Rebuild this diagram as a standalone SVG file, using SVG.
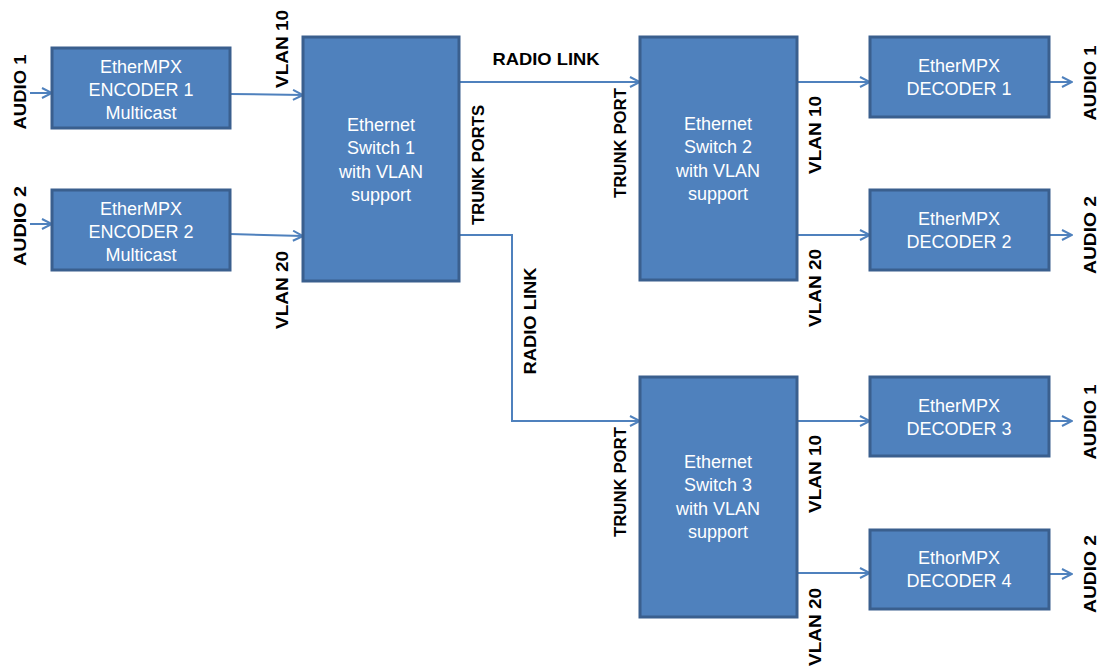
<svg xmlns="http://www.w3.org/2000/svg" width="1100" height="666" viewBox="0 0 1100 666">
<defs>
<marker id="arr" viewBox="0 0 12 12" refX="11" refY="6" markerWidth="12" markerHeight="12" markerUnits="userSpaceOnUse" orient="auto">
<path d="M1,1 L11,6 L1,11" fill="none" stroke="#4F81BD" stroke-width="2"/>
</marker>
<style>
.box{fill:#4F81BD;stroke:#3A5F8E;stroke-width:3}
.bt{fill:#FFFFFF;font-family:"Liberation Sans",Arial,sans-serif;font-size:18px;text-anchor:middle}
.lb{fill:#000000;font-family:"Liberation Sans",Arial,sans-serif;font-size:17px;font-weight:bold;text-anchor:middle;dominant-baseline:central}
.cn{fill:none;stroke:#4F81BD;stroke-width:2;marker-end:url(#arr)}
</style>
</defs>
<rect width="1100" height="666" fill="#FFFFFF"/>

<g id="connectors">
<line class="cn" x1="30" y1="93" x2="52" y2="93"/>
<line class="cn" x1="30" y1="224" x2="52" y2="224"/>
<line class="cn" x1="230" y1="94" x2="303" y2="95"/>
<line class="cn" x1="230" y1="234" x2="303" y2="236"/>
<line class="cn" x1="459" y1="82" x2="640" y2="82"/>
<polyline class="cn" points="459,235 512,235 512,421 640,421"/>
<line class="cn" x1="797" y1="82" x2="870" y2="82"/>
<line class="cn" x1="797" y1="235" x2="870" y2="235"/>
<line class="cn" x1="1049" y1="82" x2="1072" y2="82"/>
<line class="cn" x1="1049" y1="235" x2="1072" y2="235"/>
<line class="cn" x1="797" y1="421" x2="870" y2="421"/>
<line class="cn" x1="797" y1="573" x2="870" y2="573"/>
<line class="cn" x1="1049" y1="421" x2="1072" y2="421"/>
<line class="cn" x1="1049" y1="574" x2="1072" y2="574"/>
</g>

<g id="labels">
<text class="lb" transform="translate(20,92) rotate(-90)" textLength="75" lengthAdjust="spacingAndGlyphs">AUDIO 1</text>
<text class="lb" transform="translate(20,226) rotate(-90)" textLength="80" lengthAdjust="spacingAndGlyphs">AUDIO 2</text>
<text class="lb" transform="translate(282,49) rotate(-90)" textLength="78" lengthAdjust="spacingAndGlyphs">VLAN 10</text>
<text class="lb" transform="translate(282,290) rotate(-90)" textLength="78" lengthAdjust="spacingAndGlyphs">VLAN 20</text>
<text class="lb" x="546" y="59" textLength="107" lengthAdjust="spacingAndGlyphs">RADIO LINK</text>
<text class="lb" transform="translate(478,165) rotate(-90)" textLength="120" lengthAdjust="spacingAndGlyphs">TRUNK PORTS</text>
<text class="lb" transform="translate(620,143) rotate(-90)" textLength="110" lengthAdjust="spacingAndGlyphs">TRUNK PORT</text>
<text class="lb" transform="translate(530,321) rotate(-90)" textLength="107" lengthAdjust="spacingAndGlyphs">RADIO LINK</text>
<text class="lb" transform="translate(815,135) rotate(-90)" textLength="78" lengthAdjust="spacingAndGlyphs">VLAN 10</text>
<text class="lb" transform="translate(815,288) rotate(-90)" textLength="78" lengthAdjust="spacingAndGlyphs">VLAN 20</text>
<text class="lb" transform="translate(1090,83) rotate(-90)" textLength="75" lengthAdjust="spacingAndGlyphs">AUDIO 1</text>
<text class="lb" transform="translate(1090,235) rotate(-90)" textLength="78" lengthAdjust="spacingAndGlyphs">AUDIO 2</text>
<text class="lb" transform="translate(620,482) rotate(-90)" textLength="110" lengthAdjust="spacingAndGlyphs">TRUNK PORT</text>
<text class="lb" transform="translate(815,474) rotate(-90)" textLength="78" lengthAdjust="spacingAndGlyphs">VLAN 10</text>
<text class="lb" transform="translate(815,627) rotate(-90)" textLength="78" lengthAdjust="spacingAndGlyphs">VLAN 20</text>
<text class="lb" transform="translate(1090,422) rotate(-90)" textLength="75" lengthAdjust="spacingAndGlyphs">AUDIO 1</text>
<text class="lb" transform="translate(1090,574) rotate(-90)" textLength="78" lengthAdjust="spacingAndGlyphs">AUDIO 2</text>
</g>

<g id="encoder1">
<rect class="box" x="52" y="48" width="178" height="80"/>
<text class="bt" x="141" y="73">EtherMPX</text>
<text class="bt" x="141" y="96">ENCODER 1</text>
<text class="bt" x="141" y="119">Multicast</text>
</g>
<g id="encoder2">
<rect class="box" x="52" y="190" width="178" height="80"/>
<text class="bt" x="141" y="215">EtherMPX</text>
<text class="bt" x="141" y="238">ENCODER 2</text>
<text class="bt" x="141" y="261">Multicast</text>
</g>
<g id="switch1">
<rect class="box" x="303" y="37" width="156" height="244"/>
<text class="bt" x="381" y="131">Ethernet</text>
<text class="bt" x="381" y="154">Switch 1</text>
<text class="bt" x="381" y="178">with VLAN</text>
<text class="bt" x="381" y="201">support</text>
</g>
<g id="switch2">
<rect class="box" x="640" y="37" width="157" height="243"/>
<text class="bt" x="718" y="130">Ethernet</text>
<text class="bt" x="718" y="153">Switch 2</text>
<text class="bt" x="718" y="177">with VLAN</text>
<text class="bt" x="718" y="200">support</text>
</g>
<g id="switch3">
<rect class="box" x="640" y="377" width="157" height="240"/>
<text class="bt" x="718" y="468">Ethernet</text>
<text class="bt" x="718" y="491">Switch 3</text>
<text class="bt" x="718" y="515">with VLAN</text>
<text class="bt" x="718" y="538">support</text>
</g>
<g id="decoder1">
<rect class="box" x="870" y="37" width="179" height="80"/>
<text class="bt" x="959" y="72">EtherMPX</text>
<text class="bt" x="959" y="95">DECODER 1</text>
</g>
<g id="decoder2">
<rect class="box" x="870" y="190" width="179" height="80"/>
<text class="bt" x="959" y="225">EtherMPX</text>
<text class="bt" x="959" y="248">DECODER 2</text>
</g>
<g id="decoder3">
<rect class="box" x="870" y="377" width="179" height="79"/>
<text class="bt" x="959" y="412">EtherMPX</text>
<text class="bt" x="959" y="435">DECODER 3</text>
</g>
<g id="decoder4">
<rect class="box" x="870" y="530" width="179" height="79"/>
<text class="bt" x="959" y="564">EthorMPX</text>
<text class="bt" x="959" y="587">DECODER 4</text>
</g>
</svg>
